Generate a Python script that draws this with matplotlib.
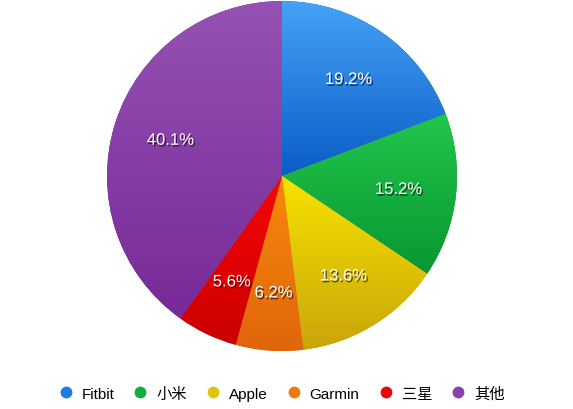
import numpy as np
import matplotlib
matplotlib.use("Agg")
import matplotlib.pyplot as plt
import matplotlib.patheffects as pe
from matplotlib.lines import Line2D
from matplotlib.colors import to_rgb

brands = ["Fitbit", "小米", "Apple", "Garmin", "三星", "其他"]
shares = [19.2, 15.2, 13.6, 6.2, 5.6, 40.1]
top_colors = ["#45a3f6", "#22c64c", "#f7e300", "#f78a0c", "#f50606", "#9552b4"]
bottom_colors = ["#0a5cc6", "#099632", "#c9a50a", "#e0650a", "#cc0000", "#772a98"]
legend_colors = ["#1a7de0", "#12ad3c", "#e0c40a", "#ee7a0c", "#e80808", "#8a40a8"]

plt.rcParams['font.family'] = ['Liberation Sans', 'Noto Sans CJK SC', 'DejaVu Sans']

W, H = 573, 410
fig = plt.figure(figsize=(W / 100, H / 100), dpi=100)
cx, cy, r = 282, 177, 175
ax = fig.add_axes([(cx - r) / W, (H - cy - r) / H, 2 * r / W, 2 * r / H])
ax.set_xlim(-1, 1)
ax.set_ylim(-1, 1)
ax.axis('off')

wedges, _ = ax.pie(shares, startangle=90, counterclock=False, radius=1,
                   center=(0, 0), frame=False,
                   wedgeprops=dict(linewidth=0))
ax.set_xlim(-1, 1)
ax.set_ylim(-1, 1)
ax.set_aspect('auto')

for w, ct, cb, val in zip(wedges, top_colors, bottom_colors, shares):
    t1, t2 = w.theta1, w.theta2
    th = np.radians(np.linspace(t1, t2, 200))
    ys = np.concatenate([[0], np.sin(th)])
    y0, y1 = ys.min(), ys.max()
    n = 256
    c0, c1 = np.array(to_rgb(ct)), np.array(to_rgb(cb))
    f = np.linspace(0, 1, n)[:, None]
    grad = (c0 * (1 - f) + c1 * f)[:, None, :]
    w.set_facecolor(cb)
    im = ax.imshow(grad, extent=(-1, 1, y0, y1), origin='upper', aspect='auto',
                   interpolation='bilinear', zorder=w.get_zorder() + 0.1)
    im.set_clip_path(w)
    mid = np.radians((t1 + t2) / 2)
    d = 0.67
    ax.text(d * np.cos(mid), d * np.sin(mid), f"{val:.1f}%", color='white',
            fontsize=12, ha='center', va='center', zorder=5,
            path_effects=[pe.withSimplePatchShadow(offset=(1, -1.3),
                                                   shadow_rgbFace='black', alpha=0.6)])
ax.set_xlim(-1, 1)
ax.set_ylim(-1, 1)

handles = [Line2D([], [], marker='o', linestyle='none', markersize=7.5,
                  markerfacecolor=c, markeredgecolor=c) for c in legend_colors]
fig.legend(handles, brands, loc='center', bbox_to_anchor=(280.5 / W, (H - 394.5) / H),
           ncol=6, frameon=False, fontsize=11, handletextpad=0.45,
           columnspacing=1.1, handlelength=1.2)

fig.savefig("out.png", dpi=100)
